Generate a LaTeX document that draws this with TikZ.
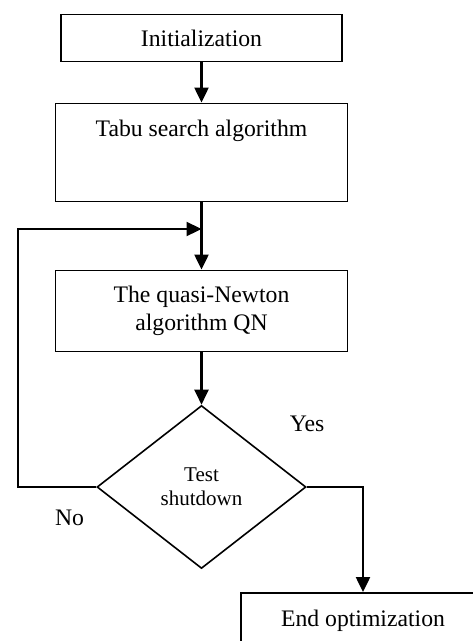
\documentclass[tikz,border=0pt]{standalone}
\usepackage{fontspec}
\setmainfont{Liberation Serif}
\usetikzlibrary{shapes.geometric,arrows.meta}
\begin{document}
\begin{tikzpicture}[x=1pt,y=-1pt,
      kotak/.style={draw,line width=1.9pt,rectangle,inner sep=0pt,align=center,
                    font=\fontsize{23.7}{28.4}\selectfont},
      ketupat/.style={draw,line width=1.6pt,diamond,inner sep=0pt,align=center,
                      minimum width=209pt,minimum height=163pt,font=\fontsize{21}{24}\selectfont},
      panah/.style={line width=2.3pt,-{Triangle[length=15pt,width=14pt]}},
      garis/.style={line width=2.3pt},
      teks/.style={anchor=base,font=\fontsize{23.7}{28.4}\selectfont}]
    \useasboundingbox (0,0) rectangle (473,641);
    % Langkah-langkah utama
    \node[kotak,minimum width=281pt,minimum height=47pt] (init) at (201.5,38) {Initialization};
    \node[kotak,minimum width=292pt,minimum height=98pt,text height=17pt,text depth=50pt]
      (tabu) at (201.5,152.5) {Tabu search algorithm};
    \node[kotak,minimum width=292pt,minimum height=81pt] (qn) at (201.5,311) {The quasi-Newton\\algorithm QN};
    \node[ketupat] (uji) at (201.5,487) {Test\\shutdown};
    \node[kotak,minimum width=244pt,minimum height=55pt] (akhir) at (363,620.5) {End optimization};
    % Titik bantu untuk loop
    \coordinate (temu) at (201.5,229);
    \coordinate (pojok) at (18,487);
    \draw[panah] (init) -- (tabu);
    \draw[garis] (tabu) -- (temu);
    \draw[panah] (temu) -- (qn);
    \draw[panah] (qn) -- (uji);
    \draw[panah] (uji.west) -- (pojok) |- (temu);
    \draw[panah] (uji.east) -| (akhir.north);
    % Label cabang
    \node[teks] (ya) at (307,431) {Yes};
    \node[teks] (tidak) at (69.5,525) {No};
  \end{tikzpicture}
\end{document}
